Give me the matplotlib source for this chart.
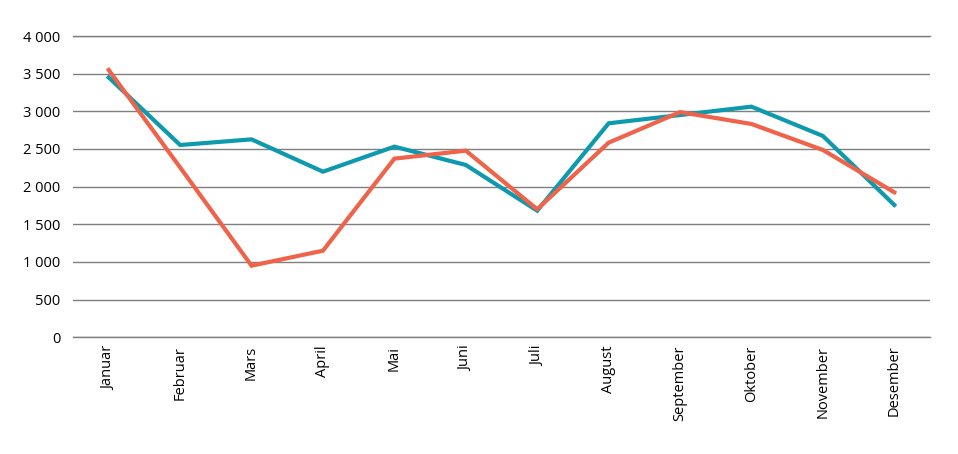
import matplotlib.pyplot as plt
from matplotlib.ticker import FuncFormatter

months = ['Januar', 'Februar', 'Mars', 'April', 'Mai', 'Juni', 'Juli',
          'August', 'September', 'Oktober', 'November', 'Desember']
teal_values = [3450, 2553, 2628, 2199, 2531, 2288, 1681, 2841, 2951, 3062, 2673, 1757]
orange_values = [3549, 2255, 951, 1150, 2372, 2478, 1700, 2584, 2990, 2832, 2487, 1925]
y_ticks = [0, 500, 1000, 1500, 2000, 2500, 3000, 3500, 4000]

plt.rcParams['font.family'] = ['Open Sans', 'DejaVu Sans']

fig = plt.figure(figsize=(9.58, 4.54), dpi=100)
ax = fig.add_axes([0.0762, 0.257, 0.8946, 0.6637])

x = range(len(months))
ax.plot(x, teal_values, color='#0d9aad', linewidth=3, solid_joinstyle='miter', zorder=3)
ax.plot(x, orange_values, color='#ee634a', linewidth=3, solid_joinstyle='miter', zorder=4)

ax.set_xlim(-0.5, len(months) - 0.5)
ax.set_ylim(0, 4000)
ax.set_yticks(y_ticks)
ax.yaxis.set_major_formatter(FuncFormatter(lambda v, p: f"{int(v):,}".replace(',', ' ')))
ax.set_xticks(list(x))
ax.set_xticklabels(months, rotation=90, va='top', ha='center')

ax.grid(axis='y', color='#7f7f7f', linewidth=1)
ax.axhline(0, color='#7f7f7f', linewidth=1, clip_on=False, zorder=1)
ax.axhline(4000, color='#7f7f7f', linewidth=1, clip_on=False, zorder=1)
ax.set_axisbelow(True)
for s in ax.spines.values():
    s.set_visible(False)
ax.tick_params(axis='both', length=0, labelsize=10.5, colors='#000000')
ax.tick_params(axis='y', pad=9)
ax.tick_params(axis='x', pad=6)

plt.savefig('out.png', dpi=100)
plt.close()
